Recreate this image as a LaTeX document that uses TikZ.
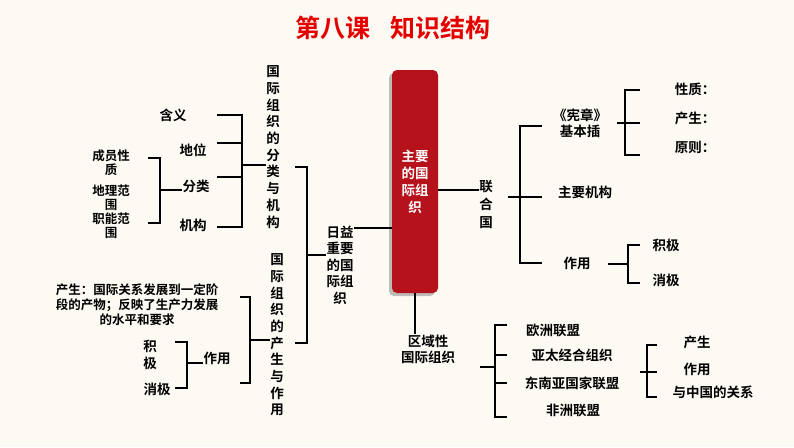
\documentclass[tikz,border=0pt]{standalone}
\usepackage{fontspec}
\setmainfont{Noto Sans CJK SC}[BoldFont=Noto Sans CJK SC Bold]
\usetikzlibrary{shadows}
\definecolor{bg}{HTML}{FCFAF2}
\definecolor{boxred}{HTML}{B5121B}
\begin{document}
\begin{tikzpicture}[x=1pt,y=-1pt,
  t/.style={font=\bfseries\fontsize{13.5}{16}\selectfont,inner sep=0pt,align=center},
  vt/.style={font=\bfseries\fontsize{13.5}{16.7}\selectfont,inner sep=0pt,align=center},
  ln/.style={line width=1.8pt}]
\fill[bg] (0,0) rectangle (794,447);
\useasboundingbox (0,0) rectangle (794,447);
\node[font=\bfseries\fontsize{25}{27}\selectfont,text=red!90!black] (title) at (393,28) {第八课\hspace{0.8em}知识结构};
% central box
\node[fill=boxred,rounded corners=5pt,minimum width=46pt,minimum height=223pt,inner sep=0pt,
  drop shadow={shadow xshift=-3pt,shadow yshift=-3pt,fill=black!50},
  text=white,font=\bfseries\fontsize{13.5}{17}\selectfont,align=center] (box) at (415,181.5) {主要\\的国\\际组\\织};
% left side
\node[t,font=\bfseries\fontsize{13.5}{16.5}\selectfont] (ry) at (340,265) {日益\\重要\\的国\\际组\\织};
\draw[ln] (box.west |- 0,228) -- (ry.east |- 0,228);
\node[vt] (v1) at (273,147) {国\\际\\组\\织\\的\\分\\类\\与\\机\\构};
\node[vt] (v2) at (277,335) {国\\际\\组\\织\\的\\产\\生\\与\\作\\用};
\draw[ln] (295,167) -- (307,167) -- (307,343) -- (295,343);
\draw[ln] (307,255) -- (ry.west |- 0,255);
% bracket 1
\node[t] (hy) at (173,115) {含义};
\node[t] (dw) at (193,150) {地位};
\node[t] (fl) at (196,186) {分类};
\node[t] (jg) at (193,225) {机构};
\draw[ln] (217,115) -- (242,115) -- (242,227) -- (217,227);
\draw[ln] (217,143) -- (242,143);
\draw[ln] (217,177) -- (242,177);
\draw[ln] (242,165) -- (v1.west |- 0,165);
% bracket 分类
\node[t,font=\bfseries\fontsize{12.5}{14}\selectfont] (cy) at (111,163) {成员性\\质};
\node[t,font=\bfseries\fontsize{12.5}{14}\selectfont] (dl) at (111,198) {地理范\\围};
\node[t,font=\bfseries\fontsize{12.5}{14}\selectfont] (zn) at (111,226) {职能范\\围};
\draw[ln] (148,158) -- (160,158) -- (160,223) -- (148,223);
\draw[ln] (160,190) -- (fl.west |- 0,190);
% bracket 产生/作用
\node[t,font=\bfseries\fontsize{12.5}{15}\selectfont] (cs) at (137,305) {产生：国际关系发展到一定阶\\段的产物；反映了生产力发展\\的水平和要求};
\draw[ln] (240,297) -- (250,297) -- (250,383) -- (240,383);
\draw[ln] (250,340) -- (v2.west |- 0,340);
\node[t] (zy) at (217,358) {作用};
\node[t,font=\bfseries\fontsize{13.5}{17}\selectfont] (jj) at (150,355) {积\\极};
\node[t] (xj) at (157,389) {消极};
\draw[ln] (175,342) -- (187,342) -- (187,388) -- (175,388);
\draw[ln] (187,363) -- (zy.west |- 0,363);
% right side: UN
\node[t,font=\bfseries\fontsize{13.5}{18}\selectfont] (lhg) at (486,204) {联\\合\\国};
\draw[ln] (box.east |- 0,190) -- (lhg.west |- 0,190);
\draw[ln] (542,126) -- (520,126) -- (520,263) -- (542,263);
\draw[ln] (508,197) -- (542,197);
\node[t] (xz) at (580,123) {《宪章》\\基本插};
\node[t] (zyjg) at (585,192) {主要机构};
\node[t] (zy2) at (577,263) {作用};
\draw[ln] (640,90) -- (625,90) -- (625,155) -- (640,155);
\draw[ln] (617,123) -- (640,123);
\node[t] (xzh) at (695,89) {性质：};
\node[t] (cs2) at (695,118) {产生：};
\node[t] (yz) at (695,147) {原则：};
\draw[ln] (640,245) -- (628,245) -- (628,283) -- (640,283);
\draw[ln] (608,264) -- (628,264);
\node[t] (jj2) at (666,245) {积极};
\node[t] (xj2) at (666,280) {消极};
% regional
\node[t] (qy) at (428,349) {区域性\\国际组织};
\draw[ln] (box.south) -- (box.south |- qy.north);
\draw[ln] (507,325) -- (495,325) -- (495,417) -- (507,417);
\draw[ln] (507,355) -- (495,355);
\draw[ln] (507,383) -- (495,383);
\draw[ln] (480,367) -- (495,367);
\node[t] (oz) at (553,330) {欧洲联盟};
\node[t] (yt) at (572,355) {亚太经合组织};
\node[t] (dn) at (572,383) {东南亚国家联盟};
\node[t] (fz) at (573,410) {非洲联盟};
\draw[ln] (657,345) -- (647,345) -- (647,397) -- (657,397);
\draw[ln] (640,372) -- (657,372);
\node[t] (cs3) at (697,342) {产生};
\node[t] (zy3) at (697,369) {作用};
\node[t] (gx) at (713,392) {与中国的关系};
\end{tikzpicture}
\end{document}
